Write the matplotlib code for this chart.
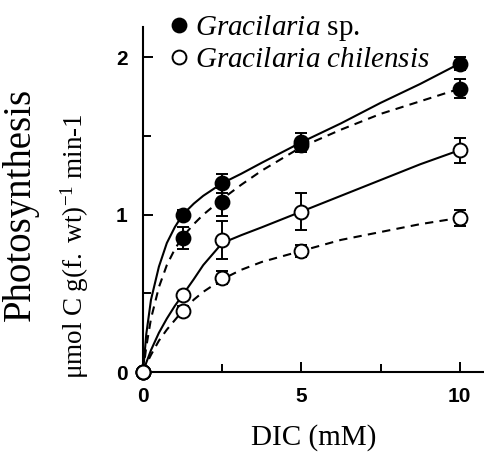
import numpy as np
import matplotlib
matplotlib.use("Agg")
import matplotlib.pyplot as plt
from matplotlib.lines import Line2D
from matplotlib.ticker import MultipleLocator

plt.rcParams["mathtext.fontset"] = "custom"
plt.rcParams["mathtext.rm"] = "Liberation Serif"
plt.rcParams["mathtext.it"] = "Liberation Serif:italic"

# measured points (DIC mM, photosynthesis)
dic = [0, 1.25, 2.5, 5, 10]

sp_solid      = [0, 1.00, 1.20, 1.46, 1.96]
sp_solid_err  = [0, 0.03, 0.06, 0.06, 0.04]
sp_dash       = [0, 0.85, 1.08, 1.44, 1.80]
sp_dash_err   = [0, 0.07, 0.09, 0.04, 0.06]
ch_solid      = [0, 0.49, 0.84, 1.02, 1.41]
ch_solid_err  = [0, 0.02, 0.12, 0.12, 0.08]
ch_dash       = [0, 0.39, 0.60, 0.77, 0.98]
ch_dash_err   = [0, 0.03, 0.04, 0.04, 0.05]

# fitted curves
curve_x       = [0, 0.1, 0.25, 0.5, 0.75, 1.0, 1.25, 1.6, 1.9, 2.5, 3.1, 3.75, 5, 6.25, 7.5, 8.75, 10]
sp_solid_fit  = [0, 0.24, 0.46, 0.67, 0.82, 0.92, 1.00, 1.07, 1.12, 1.20, 1.26, 1.33, 1.46, 1.58, 1.71, 1.83, 1.96]
sp_dash_fit   = [0, 0.16, 0.34, 0.54, 0.68, 0.78, 0.86, 0.94, 1.00, 1.10, 1.19, 1.28, 1.43, 1.54, 1.64, 1.72, 1.80]
ch_solid_fit  = [0, 0.06, 0.14, 0.25, 0.34, 0.42, 0.49, 0.59, 0.68, 0.82, 0.87, 0.92, 1.02, 1.12, 1.22, 1.32, 1.41]
ch_dash_fit   = [0, 0.05, 0.11, 0.20, 0.27, 0.33, 0.39, 0.46, 0.51, 0.59, 0.65, 0.70, 0.77, 0.84, 0.89, 0.94, 0.98]

fig = plt.figure(figsize=(4.85, 4.55), dpi=100)
ax = fig.add_axes([0.295, 0.182, 0.705, 0.758])

LW = 1.5
ax.plot(curve_x, sp_solid_fit, color="black", lw=LW, zorder=2)
ax.plot(curve_x, sp_dash_fit, color="black", lw=LW, dashes=(4, 3), zorder=2)
ax.plot(curve_x, ch_solid_fit, color="black", lw=LW, zorder=2)
ax.plot(curve_x, ch_dash_fit, color="black", lw=LW, dashes=(4, 3), zorder=2)

MS = 10
series = [
    (sp_solid, sp_solid_err, "black"),
    (sp_dash, sp_dash_err, "black"),
    (ch_solid, ch_solid_err, "white"),
    (ch_dash, ch_dash_err, "white"),
]
for y, e, fc in series:
    ax.errorbar(dic, y, yerr=e, fmt="o", ms=MS, mfc=fc, mec="black", mew=1.4,
                ecolor="black", elinewidth=1.4, capsize=4.5, capthick=1.4,
                clip_on=False, zorder=3)

ax.set_xlim(0, 10.8)
ax.set_ylim(0, 2.19)
ax.xaxis.set_major_locator(MultipleLocator(5))
ax.xaxis.set_minor_locator(MultipleLocator(2.5))
ax.yaxis.set_major_locator(MultipleLocator(1))
ax.yaxis.set_minor_locator(MultipleLocator(0.5))
ax.tick_params(which="both", direction="in", width=1.4, labelsize=15, pad=11)
ax.tick_params(which="major", length=7)
ax.tick_params(which="minor", length=6)
for lab in ax.get_xticklabels() + ax.get_yticklabels():
    lab.set_fontweight("bold")
    lab.set_family("Liberation Sans")
for s in ["top", "right"]:
    ax.spines[s].set_visible(False)
for s in ["left", "bottom"]:
    ax.spines[s].set_linewidth(1.5)

ax.set_xlabel("DIC (mM)", family="Liberation Serif", fontsize=21, labelpad=13)
fig.text(0.043, 0.55, "Photosynthesis", family="Liberation Serif", fontsize=28,
         rotation=90, ha="center", va="center")
fig.text(0.155, 0.46, r"$\mathrm{\mu mol\ C\ g(f.\ wt)^{-1}\ min}$-1",
         family="Liberation Serif", fontsize=19.5, rotation=90, ha="center", va="center")

handles = [
    Line2D([], [], ls="none", marker="o", ms=MS, mfc="black", mec="black", mew=1.4),
    Line2D([], [], ls="none", marker="o", ms=MS, mfc="white", mec="black", mew=1.4),
]
labels = [r"$\it{Gracilaria}$ sp.", r"$\it{Gracilaria\ chilensis}$"]
ax.legend(handles, labels, loc="upper left", bbox_to_anchor=(0.045, 1.075),
          frameon=False, handlelength=0.6, handletextpad=0.25,
          labelspacing=0.12, borderaxespad=0,
          prop={"family": "Liberation Serif", "size": 21})

fig.savefig("out.png", dpi=100)
